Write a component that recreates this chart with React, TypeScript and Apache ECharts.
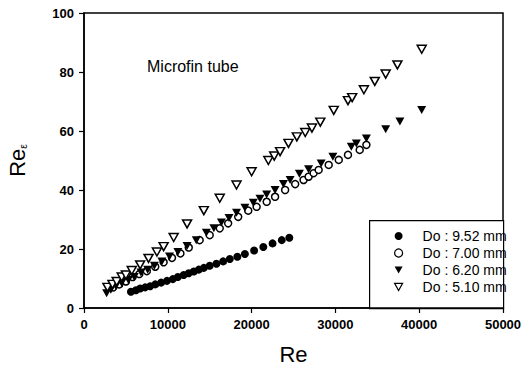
import React, { useEffect, useRef } from 'react';
import * as echarts from 'echarts';

// Do : 9.52 mm (filled circles)
const re952 = [5600, 6200, 6700, 7300, 7900, 8500, 9200, 9900, 10600, 11200, 11900, 12500, 13100, 13700, 14300, 15000, 15800, 16600, 17400, 18300, 19200, 20300, 21400, 22500, 23600, 24500];
const rec952 = [5.5, 6.0, 6.6, 7.0, 7.4, 8.0, 8.6, 9.2, 9.8, 10.5, 11.2, 11.8, 12.4, 13.0, 13.6, 14.3, 15.0, 15.8, 16.6, 17.4, 18.3, 19.5, 20.7, 21.9, 23.0, 23.8];

// Do : 7.00 mm (open circles)
const re700 = [3500, 4200, 5000, 5800, 6600, 7500, 8500, 9500, 10500, 11500, 12500, 13800, 15000, 16200, 17200, 18400, 19600, 20600, 21800, 22800, 24000, 25200, 26200, 26800, 27400, 28000, 29200, 30400, 31500, 32900, 33700];
const rec700 = [7.0, 8.0, 9.0, 10.5, 11.5, 12.5, 14.0, 15.5, 17.0, 18.5, 20.5, 23.0, 24.7, 27.0, 28.7, 30.9, 33.0, 34.3, 36.0, 37.7, 40.0, 42.0, 43.4, 44.5, 45.7, 46.8, 48.5, 50.2, 51.9, 53.6, 55.3];

// Do : 6.20 mm (filled down-triangles)
const re620 = [2700, 3200, 3800, 4500, 5300, 6000, 6800, 7600, 8400, 9300, 10200, 11200, 12300, 13400, 14600, 15500, 16400, 17300, 18200, 19200, 20200, 21000, 21800, 22800, 23800, 24600, 25700, 26800, 28300, 29700, 31900, 32500, 33700, 36000, 37700, 40300];
const rec620 = [5.0, 6.2, 7.5, 8.5, 9.5, 10.5, 12.0, 13.0, 14.3, 15.8, 17.5, 19.0, 21.0, 23.0, 25.5, 27.0, 29.0, 30.5, 32.3, 34.0, 35.7, 37.0, 38.5, 40.0, 42.0, 43.4, 45.5, 47.0, 49.0, 51.3, 54.7, 55.8, 57.5, 60.6, 63.2, 67.1];

// Do : 5.10 mm (open down-triangles)
const re510 = [2800, 3400, 3900, 4500, 5000, 5700, 6700, 7700, 8700, 9500, 10700, 12300, 14300, 16200, 18200, 20000, 22000, 22700, 23400, 24400, 25400, 26400, 27200, 28200, 29800, 31500, 32000, 33400, 34700, 36000, 37400, 40300];
const rec510 = [7.0, 8.0, 9.0, 10.5, 11.2, 12.7, 14.6, 16.8, 19.0, 20.8, 23.9, 28.5, 33.0, 37.2, 41.7, 46.2, 50.0, 51.5, 53.0, 55.8, 58.0, 59.5, 61.0, 63.0, 67.0, 70.3, 71.3, 74.0, 76.8, 79.3, 82.4, 87.7];

const seriesNames = ['Do : 9.52 mm', 'Do : 7.00 mm', 'Do : 6.20 mm', 'Do : 5.10 mm'];
const xTicks = { min: 0, max: 50000, interval: 10000 };
const yTicks = { min: 0, max: 100, interval: 20 };

const DOWN_TRI = 'path://M0,0L10,0L5,9Z';
const FONT = 'Liberation Sans, Arial, sans-serif';

const pairs = (xs: number[], ys: number[]) => xs.map((x, i) => [x, ys[i]]);

export default function App() {
  const ref = useRef<HTMLDivElement>(null);
  useEffect(() => {
    if (!ref.current) return;
    const chart = echarts.init(ref.current, undefined, { renderer: 'svg' });
    const axisCommon = {
      axisLine: { show: true, lineStyle: { color: '#000', width: 1.5 } },
      axisTick: { show: true, inside: false, length: 5, lineStyle: { color: '#000', width: 1.2 } },
      splitLine: { show: false },
    };
    chart.setOption({
      animation: false,
      backgroundColor: '#fff',
      textStyle: { fontFamily: FONT },
      grid: {
        left: 84, right: 27, top: 13, bottom: 58,
        outerBoundsMode: 'none', containLabel: false,
        show: true, borderColor: '#000', borderWidth: 1.5, backgroundColor: 'transparent',
      },
      xAxis: {
        type: 'value', ...xTicks, ...axisCommon,
        axisLabel: {
          color: '#000', fontSize: 13, fontWeight: 'bold', margin: 10, fontFamily: FONT,
          formatter: (v: number) => String(v),
        },
        name: 'Re', nameLocation: 'middle', nameGap: 35,
        nameTextStyle: { color: '#000', fontSize: 22, lineHeight: 22, fontFamily: FONT },
      },
      yAxis: {
        type: 'value', ...yTicks, ...axisCommon,
        axisLabel: {
          color: '#000', fontSize: 13, fontWeight: 'bold', margin: 10, fontFamily: FONT,
          formatter: (v: number) => String(v),
        },
        name: '{a|Re}{b|ε}', nameLocation: 'middle', nameGap: 56, nameRotate: 90,
        nameTextStyle: {
          color: '#000', fontFamily: FONT,
          rich: {
            a: { fontSize: 22, color: '#000', fontFamily: FONT },
            b: { fontSize: 10, color: '#000', fontFamily: FONT, verticalAlign: 'bottom', padding: [8, 0, 0, 0] },
          },
        },
      },
      legend: {
        orient: 'vertical', left: 389, top: 223,
        itemWidth: 8, itemHeight: 8, itemGap: 1,
        data: seriesNames,
        itemStyle: { borderWidth: 1.2 },
        formatter: (n: string) => `{g|}{t|${n}}`,
        textStyle: {
          color: '#000', fontSize: 14, fontFamily: FONT, lineHeight: 16,
          rich: {
            g: { width: 15, height: 10 },
            t: { fontSize: 14, color: '#000', fontFamily: FONT, lineHeight: 16 },
          },
        },
      },
      graphic: [
        {
          type: 'rect', left: 369, top: 220, z: 0,
          shape: { width: 134, height: 88 },
          style: { fill: '#fff', stroke: '#000', lineWidth: 1.2 },
        },
        {
          type: 'text', left: 147, top: 58,
          style: { text: 'Microfin tube', fill: '#000', fontSize: 16, fontFamily: FONT },
        },
      ],
      series: [
        {
          name: seriesNames[0], type: 'scatter', symbol: 'circle', symbolSize: 8,
          itemStyle: { color: '#000', opacity: 1 },
          data: pairs(re952, rec952),
        },
        {
          name: seriesNames[1], type: 'scatter', symbol: 'circle', symbolSize: 7,
          itemStyle: { color: '#fff', borderColor: '#000', borderWidth: 1.5, opacity: 1 },
          data: pairs(re700, rec700),
        },
        {
          name: seriesNames[2], type: 'scatter', symbol: DOWN_TRI, symbolSize: [9, 8],
          itemStyle: { color: '#000', opacity: 1 },
          data: pairs(re620, rec620),
        },
        {
          name: seriesNames[3], type: 'scatter', symbol: DOWN_TRI, symbolSize: [9, 8],
          itemStyle: { color: '#fff', borderColor: '#000', borderWidth: 1.5, opacity: 1 },
          data: pairs(re510, rec510),
        },
      ],
    });
    return () => chart.dispose();
  }, []);
  return <div ref={ref} style={{ position: 'absolute', left: 0, top: 0, width: 530, height: 366 }} />;
}
